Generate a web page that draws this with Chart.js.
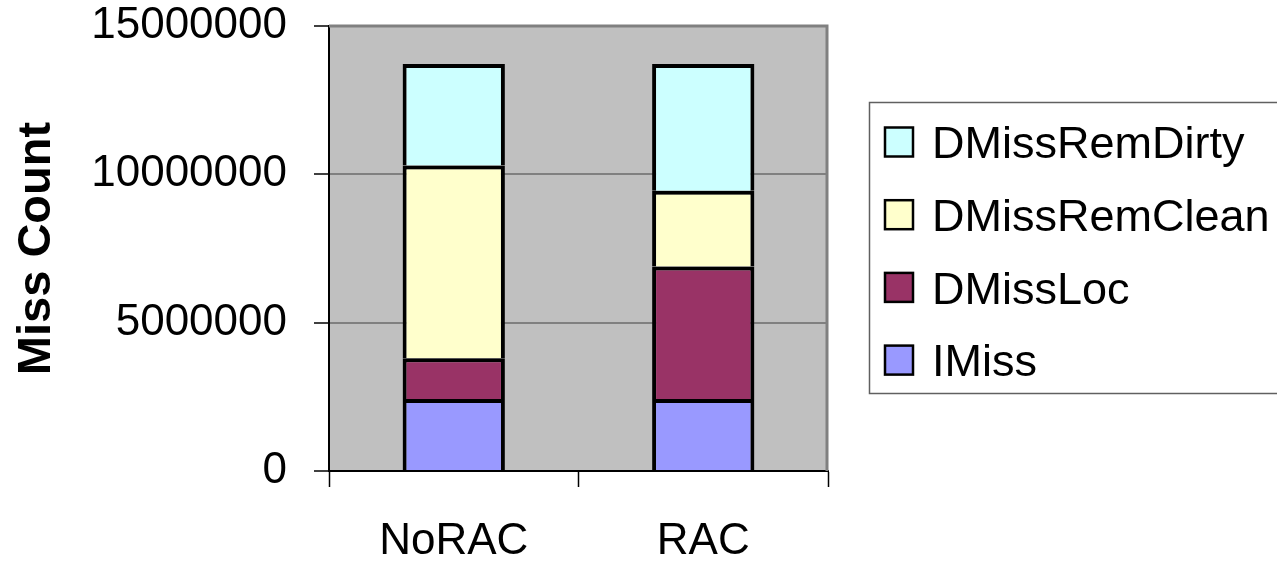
<!DOCTYPE html>
<html>
<head>
<meta charset="utf-8">
<title>Miss Count</title>
<script src="https://cdn.jsdelivr.net/npm/chart.js@4/dist/chart.umd.min.js"></script>
<style>
  html, body { margin: 0; padding: 0; background: #ffffff; }
  #wrap { width: 1277px; height: 562px; position: relative; }
</style>
</head>
<body>
<div id="wrap"><canvas id="c" width="1277" height="562"></canvas></div>
<script>
// Categories and stacked series (bottom to top)
const categories = ['NoRAC', 'RAC'];
const iMiss         = [2430000, 2430000];
const dMissLoc      = [1370000, 4460000];
const dMissRemClean = [6500000, 2560000];
const dMissRemDirty = [3420000, 4270000];
const yTicks = [0, 5000000, 10000000, 15000000];

const FONT = '"Liberation Sans", Arial, sans-serif';

// Plot area placement
const PLOT = { left: 329, right: 828, top: 26, bottom: 471 };

const plotBackground = {
  id: 'plotBackground',
  beforeDraw(chart) {
    const { ctx, chartArea: a } = chart;
    ctx.save();
    ctx.fillStyle = '#c0c0c0';
    ctx.fillRect(a.left, a.top, a.right - a.left, a.bottom - a.top);
    ctx.restore();
  },
  beforeDatasetsDraw(chart) {
    const { ctx, chartArea: a } = chart;
    ctx.save();
    ctx.strokeStyle = '#808080';
    ctx.lineWidth = 3;
    ctx.beginPath();
    ctx.moveTo(a.left, a.top);
    ctx.lineTo(a.right - 1, a.top);
    ctx.lineTo(a.right - 1, a.bottom);
    ctx.stroke();
    ctx.restore();
  }
};

// Boxed legend on the right, top series listed first
const boxedLegend = {
  id: 'boxedLegend',
  afterDraw(chart) {
    const { ctx } = chart;
    const box = { x: 869.5, y: 102.5, w: 430, h: 291 };
    ctx.save();
    ctx.strokeStyle = '#606060';
    ctx.lineWidth = 1.5;
    ctx.strokeRect(box.x, box.y, box.w, box.h);
    const items = chart.data.datasets.slice().reverse();
    const fs = 45;
    ctx.font = fs + 'px ' + FONT;
    ctx.textAlign = 'left';
    ctx.textBaseline = 'alphabetic';
    items.forEach((ds, i) => {
      const cy = 142 + i * 72.7;
      ctx.fillStyle = ds.backgroundColor;
      ctx.fillRect(885, cy - 14.5, 28, 29);
      ctx.strokeStyle = '#000';
      ctx.lineWidth = 2.5;
      ctx.strokeRect(885, cy - 14.5, 28, 29);
      ctx.fillStyle = '#000';
      ctx.fillText(ds.label, 932, cy + 0.358 * fs);
    });
    ctx.restore();
  }
};

const barStyle = { borderColor: '#000000', borderWidth: 4, barPercentage: 0.41, categoryPercentage: 1.0 };

new Chart(document.getElementById('c'), {
  type: 'bar',
  data: {
    labels: categories,
    datasets: [
      { label: 'IMiss',         data: iMiss,         backgroundColor: '#9999ff', ...barStyle },
      { label: 'DMissLoc',      data: dMissLoc,      backgroundColor: '#993366', ...barStyle },
      { label: 'DMissRemClean', data: dMissRemClean, backgroundColor: '#ffffcc', ...barStyle },
      { label: 'DMissRemDirty', data: dMissRemDirty, backgroundColor: '#ccffff', ...barStyle }
    ]
  },
  options: {
    responsive: false,
    animation: false,
    layout: { padding: { top: PLOT.top, right: 1277 - PLOT.right, left: 0, bottom: 0 } },
    plugins: {
      legend: { display: false },
      tooltip: { enabled: false }
    },
    scales: {
      x: {
        stacked: true,
        offset: true,
        grid: { offset: true, drawOnChartArea: false, drawTicks: true, tickLength: 16, tickColor: '#000', tickWidth: 1.5 },
        border: { color: '#000', width: 2 },
        ticks: { color: '#000', font: { family: FONT, size: 44 }, padding: 28 },
        afterFit(scale) { scale.height = 562 - PLOT.bottom; }
      },
      y: {
        stacked: true,
        min: 0,
        max: 15000000,
        afterBuildTicks(scale) { scale.ticks = yTicks.map(v => ({ value: v })); },
        grid: { color: '#808080', lineWidth: 2, tickLength: 15, tickColor: '#000', tickWidth: 1.5 },
        border: { color: '#000', width: 2 },
        ticks: {
          color: '#000',
          font: { family: FONT, size: 44 },
          padding: 27,
          callback: v => String(v)
        },
        title: {
          display: true,
          text: 'Miss Count',
          color: '#000',
          font: { family: FONT, size: 47, weight: 'bold' },
          padding: { top: 9, bottom: 0 }
        },
        afterFit(scale) {
          scale.width = PLOT.left;
          // let the end labels overhang the plot instead of shrinking it
          scale.paddingTop = 0;
          scale.paddingBottom = 0;
        }
      }
    }
  },
  plugins: [plotBackground, boxedLegend]
});
</script>
</body>
</html>
